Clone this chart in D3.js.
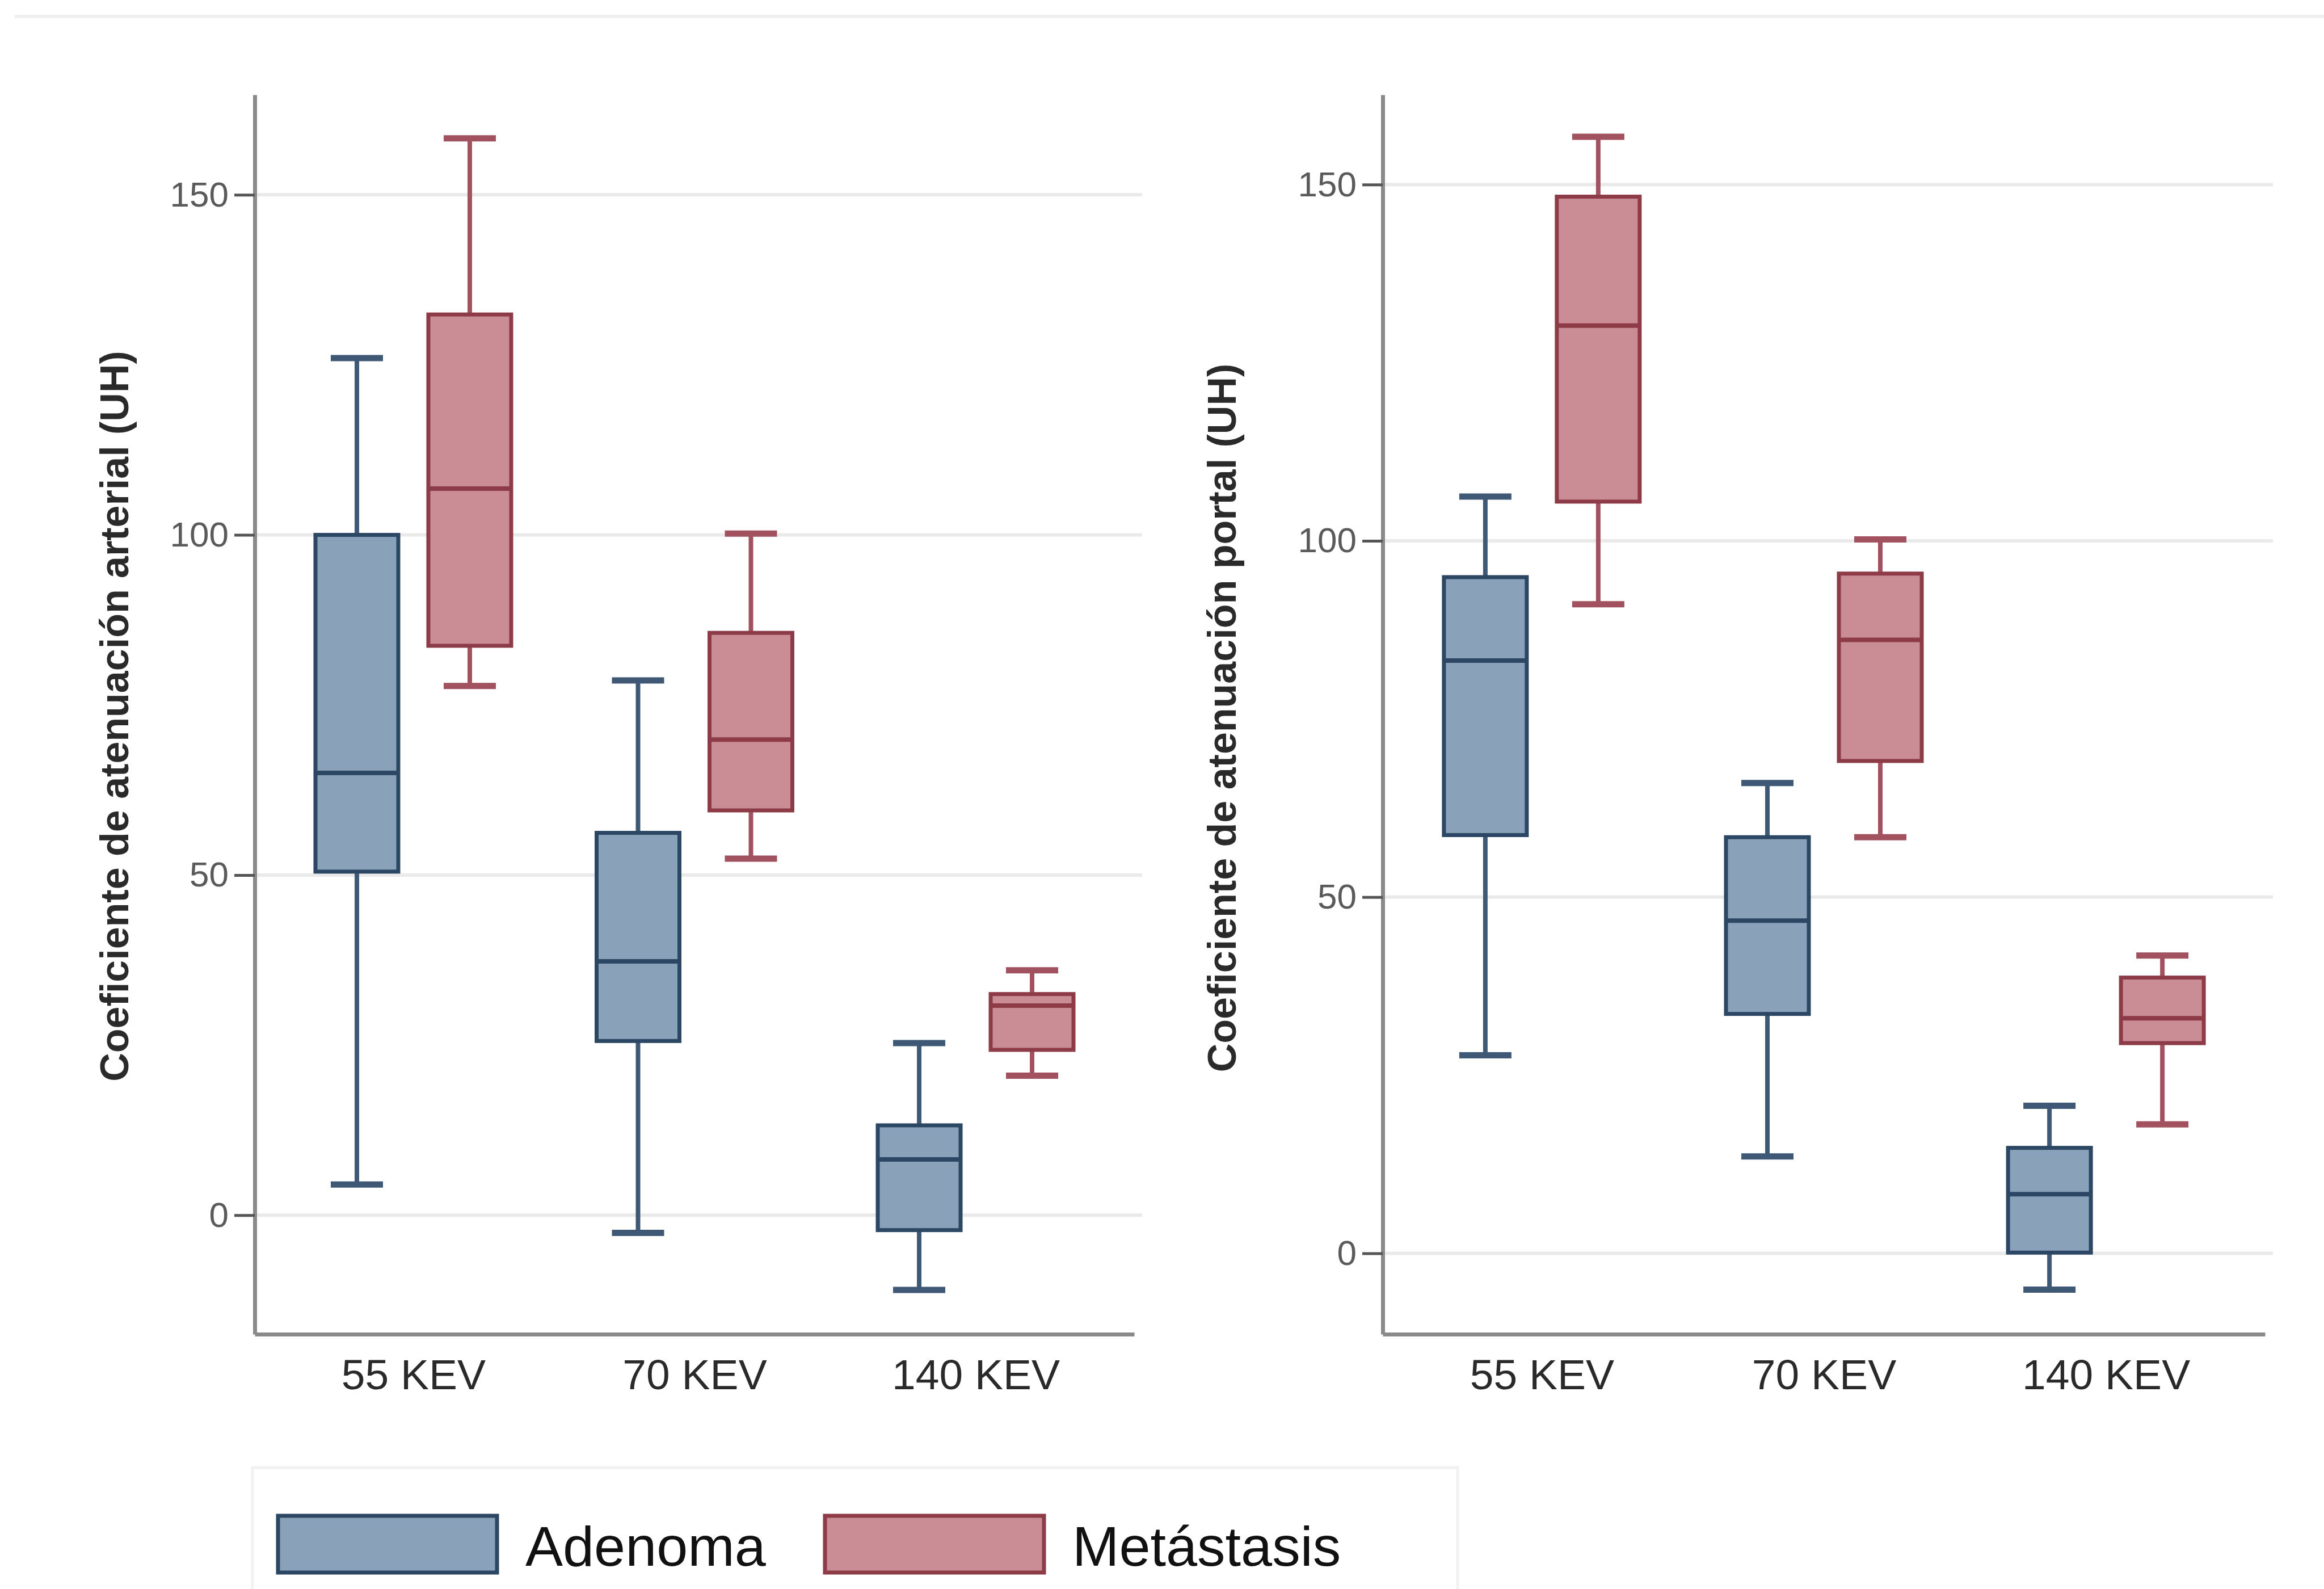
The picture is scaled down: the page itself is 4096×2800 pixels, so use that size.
<!DOCTYPE html>
<html>
<head>
<meta charset="utf-8">
<script src="https://cdn.jsdelivr.net/npm/d3@7"></script>
<style>
  body { margin: 0; background: #fff; }
  svg { display: block; font-family: "Liberation Sans", Arial, sans-serif; }
</style>
</head>
<body>
<script>
// categories and groups
var categories = ["55 KEV", "70 KEV", "140 KEV"];
var groups = ["Adenoma", "Metástasis"];
var yTicks = [0, 50, 100, 150];

// box summaries per category: [lower whisker, q1, median, q3, upper whisker]
var arterialAdenoma = [
  [4.5, 50.5, 65, 100, 126],
  [-2.6, 25.6, 37.3, 56.2, 78.6],
  [-11, -2.2, 8.2, 13.2, 25.3]
];
var arterialMetastasis = [
  [77.8, 83.7, 106.8, 132.4, 158.3],
  [52.4, 59.5, 69.9, 85.6, 100.2],
  [20.5, 24.3, 30.8, 32.5, 36]
];
var portalAdenoma = [
  [27.8, 58.7, 83.2, 94.9, 106.2],
  [13.6, 33.6, 46.7, 58.4, 66],
  [-5.1, 0.1, 8.3, 14.8, 20.7]
];
var portalMetastasis = [
  [91.1, 105.5, 130.2, 148.3, 156.7],
  [58.4, 69.1, 86.1, 95.4, 100.2],
  [18.1, 29.5, 33, 38.7, 41.8]
];

var fills = { "Adenoma": "#8aa1ba", "Metástasis": "#ca8d96" };
var strokes = { "Adenoma": "#2c4764", "Metástasis": "#8e3b48" };
var whiskerCol = { "Adenoma": "#3e5876", "Metástasis": "#a2525f" };

var svgWidth = 4096;
var svgHeight = 2800;

var svg = d3.select("body")
  .append("svg")
  .attr("width", svgWidth)
  .attr("height", svgHeight);

// faint frame line at the very top
svg.append("line")
  .attr("x1", 26).attr("x2", svgWidth)
  .attr("y1", 29).attr("y2", 29)
  .attr("stroke", "#f0f0f0")
  .attr("stroke-width", 6);

var panels = [
  {
    left: 449, right: 1999, top: 167, bottom: 2351,
    yDomain: [-17.5, 164.7],
    title: "Coeficiente de atenuación arterial (UH)",
    titleX: 226, titleY: 1262,
    adenoma: arterialAdenoma, metastasis: arterialMetastasis
  },
  {
    left: 2437, right: 3992, top: 167, bottom: 2351,
    yDomain: [-11.35, 162.6],
    title: "Coeficiente de atenuación portal (UH)",
    titleX: 2178, titleY: 1265,
    adenoma: portalAdenoma, metastasis: portalMetastasis
  }
];

var boxWidth = 146;
var capWidth = 92;

panels.forEach(function(p) {
  var g = svg.append("g");

  var xScale = d3.scalePoint()
    .domain(categories)
    .range([p.left, p.right])
    .padding(0.564);

  var subScale = d3.scalePoint()
    .domain(groups)
    .range([-99.5, 99.5]);

  var yScale = d3.scaleLinear()
    .domain(p.yDomain)
    .range([p.bottom, p.top]);

  // gridlines
  g.selectAll(".grid")
    .data(yTicks)
    .enter()
    .append("line")
    .attr("x1", p.left)
    .attr("x2", p.right + 14)
    .attr("y1", d => yScale(d))
    .attr("y2", d => yScale(d))
    .attr("stroke", "#eaeaea")
    .attr("stroke-width", 6);

  // y axis
  var leftAxis = d3.axisLeft(yScale)
    .tickValues(yTicks)
    .tickSize(36)
    .tickSizeOuter(0)
    .tickPadding(10);

  var yAxisG = g.append("g")
    .attr("transform", `translate(${p.left}, 0)`)
    .call(leftAxis);
  yAxisG.select(".domain").attr("stroke", "#8a8a8a").attr("stroke-width", 7);
  yAxisG.selectAll(".tick line").attr("stroke", "#555").attr("stroke-width", 5);
  yAxisG.selectAll(".tick text")
    .attr("fill", "#5a5a5a")
    .attr("font-size", 62)
    .attr("font-family", "Liberation Sans, Arial, sans-serif");

  // x axis
  var bottomAxis = d3.axisBottom(xScale)
    .tickSize(0)
    .tickSizeOuter(0);

  var xAxisG = g.append("g")
    .attr("transform", `translate(0, ${p.bottom})`)
    .call(bottomAxis);
  xAxisG.select(".domain").attr("stroke", "#8a8a8a").attr("stroke-width", 7);
  xAxisG.selectAll(".tick text")
    .attr("y", 97)
    .attr("dy", 0)
    .attr("fill", "#2a2a2a")
    .attr("font-size", 75)
    .attr("font-family", "Liberation Sans, Arial, sans-serif");

  // boxes
  var rows = [];
  categories.forEach(function(c, i) {
    rows.push({ cat: c, grp: "Adenoma", s: p.adenoma[i] });
    rows.push({ cat: c, grp: "Metástasis", s: p.metastasis[i] });
  });

  var boxG = g.selectAll(".box")
    .data(rows)
    .enter()
    .append("g")
    .attr("transform", d => `translate(${xScale(d.cat) + subScale(d.grp)}, 0)`);

  // whiskers
  boxG.append("line")
    .attr("x1", 0).attr("x2", 0)
    .attr("y1", d => yScale(d.s[4]))
    .attr("y2", d => yScale(d.s[3]))
    .attr("stroke", d => whiskerCol[d.grp])
    .attr("stroke-width", 8);
  boxG.append("line")
    .attr("x1", 0).attr("x2", 0)
    .attr("y1", d => yScale(d.s[1]))
    .attr("y2", d => yScale(d.s[0]))
    .attr("stroke", d => whiskerCol[d.grp])
    .attr("stroke-width", 8);

  // caps
  [0, 4].forEach(function(k) {
    boxG.append("line")
      .attr("x1", -capWidth / 2).attr("x2", capWidth / 2)
      .attr("y1", d => yScale(d.s[k]))
      .attr("y2", d => yScale(d.s[k]))
      .attr("stroke", d => whiskerCol[d.grp])
      .attr("stroke-width", 11);
  });

  boxG.append("rect")
    .attr("x", -boxWidth / 2)
    .attr("width", boxWidth)
    .attr("y", d => yScale(d.s[3]))
    .attr("height", d => yScale(d.s[1]) - yScale(d.s[3]))
    .attr("fill", d => fills[d.grp])
    .attr("stroke", d => strokes[d.grp])
    .attr("stroke-width", 7);

  // medians
  boxG.append("line")
    .attr("x1", -boxWidth / 2).attr("x2", boxWidth / 2)
    .attr("y1", d => yScale(d.s[2]))
    .attr("y2", d => yScale(d.s[2]))
    .attr("stroke", d => strokes[d.grp])
    .attr("stroke-width", 8);

  // y axis title
  g.append("text")
    .attr("transform", `translate(${p.titleX}, ${p.titleY}) rotate(-90)`)
    .attr("text-anchor", "middle")
    .attr("font-size", 70)
    .attr("font-weight", "bold")
    .attr("fill", "#2a2a2a")
    .text(p.title);
});

// legend
var legend = svg.append("g");
legend.append("rect")
  .attr("x", 445).attr("y", 2586)
  .attr("width", 2124).attr("height", 240)
  .attr("fill", "none")
  .attr("stroke", "#f1f1f1")
  .attr("stroke-width", 5);

var legendX = { "Adenoma": 490, "Metástasis": 1454 };
groups.forEach(function(grp) {
  legend.append("rect")
    .attr("x", legendX[grp]).attr("y", 2671)
    .attr("width", 386).attr("height", 100)
    .attr("fill", fills[grp])
    .attr("stroke", strokes[grp])
    .attr("stroke-width", 7);
  legend.append("text")
    .attr("x", legendX[grp] + 436)
    .attr("y", 2759)
    .attr("font-size", 99)
    .attr("fill", "#111")
    .text(grp);
});
</script>
</body>
</html>
